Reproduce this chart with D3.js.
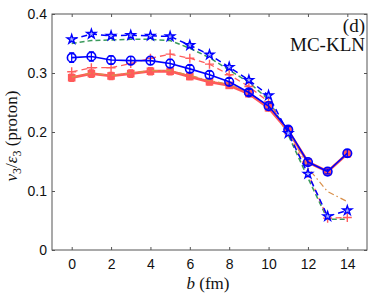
<!DOCTYPE html>
<html>
<head>
<meta charset="utf-8">
<script src="https://cdn.jsdelivr.net/npm/d3@7"></script>
<style>
  body { margin: 0; background: #fff; }
  svg { display: block; }
</style>
</head>
<body>
<svg id="chart" width="374" height="294"></svg>
<script>
// impact parameter b (fm)
const bVals = [0, 1, 2, 3, 4, 5, 6, 7, 8, 9, 10, 11, 12, 13, 14];

// v3/eps3 for protons
const starVals   = [0.357, 0.366, 0.363, 0.364, 0.363, 0.362, 0.347, 0.331, 0.310, 0.288, 0.262, 0.198, 0.129, 0.057, 0.067];
const greenVals  = [0.350, 0.355, 0.356, 0.357, 0.357, 0.355, 0.342, 0.326, 0.305, 0.284, 0.255, 0.195, 0.122, 0.052, 0.052];
const circleVals = [0.326, 0.328, 0.322, 0.321, 0.321, 0.316, 0.307, 0.297, 0.285, 0.267, 0.244, 0.204, 0.149, 0.133, 0.164];
const circleErr  = [0.008, 0.008, 0.007, 0.007, 0.007, 0.007, 0.006, 0.006, 0.006, 0.005, 0.005, 0.005, 0.005, 0.004, 0.006];
const plusVals   = [0.302, 0.309, 0.309, 0.316, 0.325, 0.332, 0.325, 0.315, 0.297, 0.277, 0.251, 0.200, 0.130, 0.054, 0.055];
const squareVals = [0.292, 0.299, 0.295, 0.299, 0.303, 0.303, 0.294, 0.285, 0.279, 0.265, 0.241, 0.202, 0.149, 0.133, 0.163];
const squareErr  = [0.006, 0.006, 0.006, 0.006, 0.006, 0.006, 0.005, 0.005, 0.005, 0.005, 0.005, 0.004, 0.004, 0.004, 0.005];
const orangeVals = [0.293, 0.300, 0.296, 0.300, 0.304, 0.304, 0.296, 0.287, 0.281, 0.267, 0.243, 0.203, 0.139, 0.099, 0.082];

const xTicks = [0, 2, 4, 6, 8, 10, 12, 14];
const yTicks = [0, 0.1, 0.2, 0.3, 0.4];

const svg = d3.select("#chart");
const plotL = 52, plotR = 367, plotT = 14, plotB = 250;

const x = d3.scaleLinear().domain([-1, 15]).range([plotL, plotR]);
const y = d3.scaleLinear().domain([0, 0.4]).range([plotB, plotT]);

const axisColor = "#555";

// frame
svg.append("rect")
  .attr("x", plotL).attr("y", plotT)
  .attr("width", plotR - plotL).attr("height", plotB - plotT)
  .attr("fill", "none").attr("stroke", axisColor).attr("stroke-width", 1);

// axes with inward ticks
const xAxis = svg.append("g").attr("transform", `translate(0,${plotB})`)
  .call(d3.axisBottom(x).tickValues(xTicks).tickSizeInner(-3).tickSizeOuter(0).tickPadding(9));
const xAxisTop = svg.append("g").attr("transform", `translate(0,${plotT})`)
  .call(d3.axisTop(x).tickValues(xTicks).tickSizeInner(-3).tickSizeOuter(0).tickFormat(""));
const yAxis = svg.append("g").attr("transform", `translate(${plotL},0)`)
  .call(d3.axisLeft(y).tickValues(yTicks).tickSizeInner(-3).tickSizeOuter(0).tickPadding(5)
    .tickFormat(d => d === 0 ? "0" : d3.format(".1f")(d)));
const yAxisRight = svg.append("g").attr("transform", `translate(${plotR},0)`)
  .call(d3.axisRight(y).tickValues(yTicks).tickSizeInner(-3).tickSizeOuter(0).tickFormat(""));

[xAxis, xAxisTop, yAxis, yAxisRight].forEach(g => {
  g.select(".domain").remove();
  g.selectAll("line").attr("stroke", axisColor);
  g.selectAll("text")
    .attr("fill", "#111")
    .style("font-family", "'Liberation Sans', Arial, sans-serif")
    .style("font-size", "14px");
});

const line = d3.line().x((d, i) => x(bVals[i])).y(d => y(d));

function drawLine(vals, color, width, dash) {
  svg.append("path")
    .attr("d", line(vals))
    .attr("fill", "none")
    .attr("stroke", color)
    .attr("stroke-width", width)
    .attr("stroke-dasharray", dash || null);
}

// green dashed (no markers)
drawLine(greenVals, "#3a9a5c", 1.5, "5,3");

// red dashed with plus markers
drawLine(plusVals, "#ff5e5e", 1.3, "6,4");
svg.append("g").selectAll("path")
  .data(plusVals)
  .join("path")
  .attr("d", (d, i) => {
    const cx = x(bVals[i]), cy = y(d), s = 4.5;
    return `M${cx - s},${cy}H${cx + s}M${cx},${cy - s}V${cy + s}`;
  })
  .attr("stroke", "#ff5e5e").attr("stroke-width", 1.4).attr("fill", "none");

// red squares, thick solid line with error bars
drawLine(squareVals, "#ff5a5a", 2.8);
svg.append("g").selectAll("path")
  .data(squareVals)
  .join("path")
  .attr("d", (d, i) => {
    const cx = x(bVals[i]), lo = y(d - squareErr[i]), hi = y(d + squareErr[i]);
    return `M${cx},${lo}V${hi}M${cx - 2.5},${lo}H${cx + 2.5}M${cx - 2.5},${hi}H${cx + 2.5}`;
  })
  .attr("stroke", "#ff5a5a").attr("stroke-width", 1.5).attr("fill", "none");
svg.append("g").selectAll("rect")
  .data(squareVals)
  .join("rect")
  .attr("x", (d, i) => x(bVals[i]) - 3.8)
  .attr("y", d => y(d) - 3.8)
  .attr("width", 7.6).attr("height", 7.6)
  .attr("fill", "#ff5a5a");

// orange dash-dot
drawLine(orangeVals, "#d9904a", 1.2, "6,3,1.5,3");

// blue circles, solid line with error bars
drawLine(circleVals, "#0000ff", 1.6);
svg.append("g").selectAll("path")
  .data(circleVals)
  .join("path")
  .attr("d", (d, i) => {
    const cx = x(bVals[i]), lo = y(d - circleErr[i]), hi = y(d + circleErr[i]);
    return `M${cx},${lo}V${hi}M${cx - 2.5},${lo}H${cx + 2.5}M${cx - 2.5},${hi}H${cx + 2.5}`;
  })
  .attr("stroke", "#0000ff").attr("stroke-width", 1.2).attr("fill", "none");
svg.append("g").selectAll("circle")
  .data(circleVals)
  .join("circle")
  .attr("cx", (d, i) => x(bVals[i]))
  .attr("cy", d => y(d))
  .attr("r", 4.3)
  .attr("fill", "none").attr("stroke", "#0000ff").attr("stroke-width", 1.6);

// blue stars dashed
drawLine(starVals, "#0000ff", 1.5, "6,4");
const star = d3.symbol().type(d3.symbolStar).size(26);
svg.append("g").selectAll("path")
  .data(starVals)
  .join("path")
  .attr("d", star)
  .attr("transform", (d, i) => `translate(${x(bVals[i])},${y(d)})`)
  .attr("fill", "#a8b0ff").attr("stroke", "#0000ff").attr("stroke-width", 1.4);

// annotation
const serif = "'Liberation Serif', 'Times New Roman', serif";
svg.append("text").attr("x", 365).attr("y", 32).attr("text-anchor", "end")
  .style("font-family", serif).style("font-size", "19px").attr("fill", "#111").text("(d)");
svg.append("text").attr("x", 365).attr("y", 51).attr("text-anchor", "end")
  .style("font-family", serif).style("font-size", "19px").attr("fill", "#111").text("MC-KLN");

// axis labels
const xl = svg.append("text").attr("x", 208).attr("y", 289).attr("text-anchor", "middle")
  .style("font-family", serif).style("font-size", "17px").attr("fill", "#111");
xl.append("tspan").style("font-style", "italic").text("b");
xl.append("tspan").text(" (fm)");

const yl = svg.append("text")
  .attr("transform", "translate(17,136) rotate(-90)")
  .attr("text-anchor", "middle")
  .style("font-family", serif).style("font-size", "17px").attr("fill", "#111");
yl.append("tspan").style("font-style", "italic").text("v");
yl.append("tspan").attr("dy", 4).style("font-size", "12px").text("3");
yl.append("tspan").attr("dy", -4).text("/");
yl.append("tspan").style("font-style", "italic").text("ε");
yl.append("tspan").attr("dy", 4).style("font-size", "12px").text("3");
yl.append("tspan").attr("dy", -4).text(" (proton)");
</script>
</body>
</html>
